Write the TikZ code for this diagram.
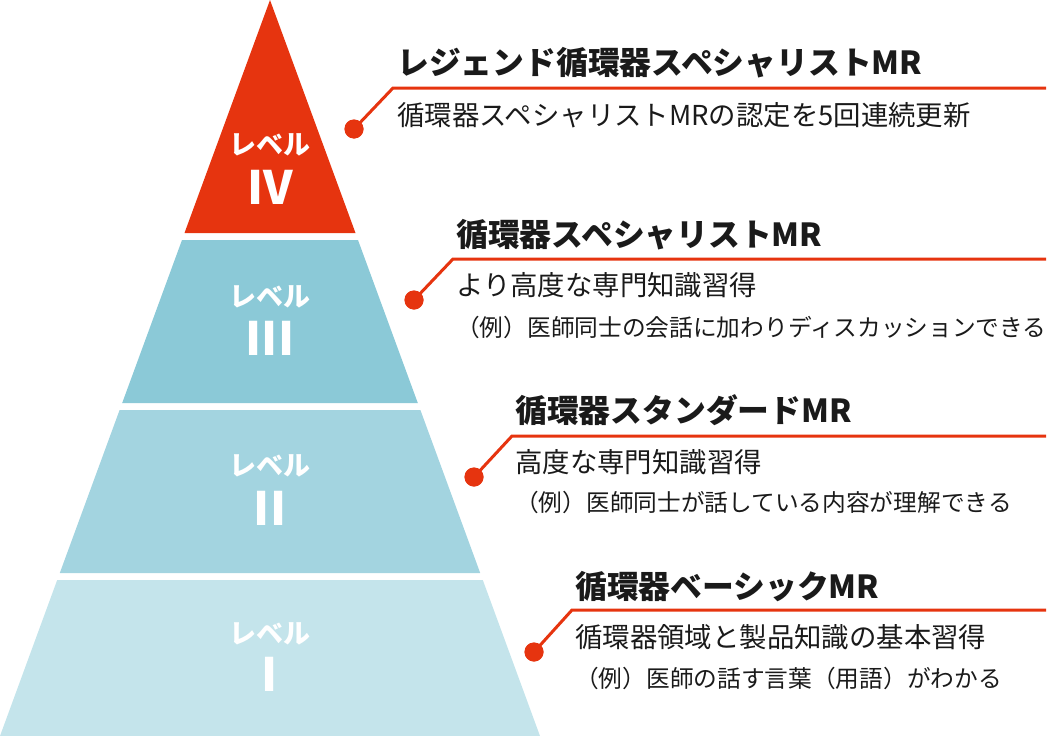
\documentclass[tikz,border=0pt]{standalone}
\usepackage{fontspec}
\newfontfamily\jp{Noto Sans CJK JP}
\definecolor{lvred}{HTML}{E6340F}
\definecolor{lvthree}{HTML}{8BC9D7}
\definecolor{lvtwo}{HTML}{A3D4E0}
\definecolor{lvone}{HTML}{C4E4EB}
\definecolor{ink}{HTML}{1A1A1A}
\begin{document}
\begin{tikzpicture}[x=1pt,y=-1pt,
  title/.style={anchor=west, inner sep=0pt, text=ink, font=\jp\bfseries\fontsize{31.8}{31.8}\selectfont},
  desc/.style={anchor=west, inner sep=0pt, text=ink, font=\jp\fontsize{27.4}{27.4}\selectfont},
  note/.style={anchor=west, inner sep=0pt, text=ink, font=\jp\fontsize{23.7}{23.7}\selectfont},
  lvl/.style={inner sep=0pt, text=white, font=\jp\bfseries\fontsize{27}{27}\selectfont},
  num/.style={inner sep=0pt, text=white, font=\jp\bfseries\fontsize{46}{46}\selectfont},
  dotmark/.style={circle, fill=lvred, minimum size=19pt, inner sep=0pt},
  leader/.style={draw=lvred, line width=3pt}]
\useasboundingbox (0,0) rectangle (1052,736);
% pyramid tiers
\fill[lvred] (270,0) -- (355.5,233) -- (184.5,233) -- cycle;
\fill[lvthree] (182,240) -- (358,240) -- (417.8,403) -- (122.2,403) -- cycle;
\fill[lvtwo] (119.6,410) -- (420.4,410) -- (480.2,573) -- (59.8,573) -- cycle;
\fill[lvone] (57.2,580) -- (482.8,580) -- (540,736) -- (0,736) -- cycle;
% tier labels
\node[lvl] (l4) at (270,145) {レベル};
\node[num] (n4) at (270,187) {IV};
\node[lvl] (l3) at (270,297) {レベル};
\node[num] (n3) at (270,338) {III};
\node[lvl] (l2) at (270,466) {レベル};
\node[num] (n2) at (270,508) {II};
\node[lvl] (l1) at (270,634) {レベル};
\node[num] (n1) at (270,674) {I};
% level IV
\node[dotmark] (d4) at (354,129) {};
\coordinate (c4) at (393,88);
\coordinate (e4) at (1046,88);
\draw[leader] (d4.center) -- (c4) -- (e4);
\node[dotmark] at (d4) {};
\node[title] (t4) at (397,63) {レジェンド循環器スペシャリストMR};
\node[desc] (a4) at (397,115) {循環器スペシャリストMRの認定を5回連続更新};
% level III
\node[dotmark] (d3) at (414,300) {};
\coordinate (c3) at (453,259);
\coordinate (e3) at (1046,259);
\draw[leader] (d3.center) -- (c3) -- (e3);
\node[dotmark] at (d3) {};
\node[title] (t3) at (456,235) {循環器スペシャリストMR};
\node[desc] (a3) at (456,285) {より高度な専門知識習得};
\node[note] (b3) at (456,327) {（例）医師同士の会話に加わりディスカッションできる};
% level II
\node[dotmark] (d2) at (474,477) {};
\coordinate (c2) at (512,436);
\coordinate (e2) at (1046,436);
\draw[leader] (d2.center) -- (c2) -- (e2);
\node[dotmark] at (d2) {};
\node[title] (t2) at (515,410) {循環器スタンダードMR};
\node[desc] (a2) at (515,462) {高度な専門知識習得};
\node[note] (b2) at (515,502) {（例）医師同士が話している内容が理解できる};
% level I
\node[dotmark] (d1) at (534,652) {};
\coordinate (c1) at (572,610);
\coordinate (e1) at (1046,610);
\draw[leader] (d1.center) -- (c1) -- (e1);
\node[dotmark] at (d1) {};
\node[title] (t1) at (575,587) {循環器ベーシックMR};
\node[desc] (a1) at (575,637) {循環器領域と製品知識の基本習得};
\node[note] (b1) at (575,678) {（例）医師の話す言葉（用語）がわかる};
\end{tikzpicture}
\end{document}
